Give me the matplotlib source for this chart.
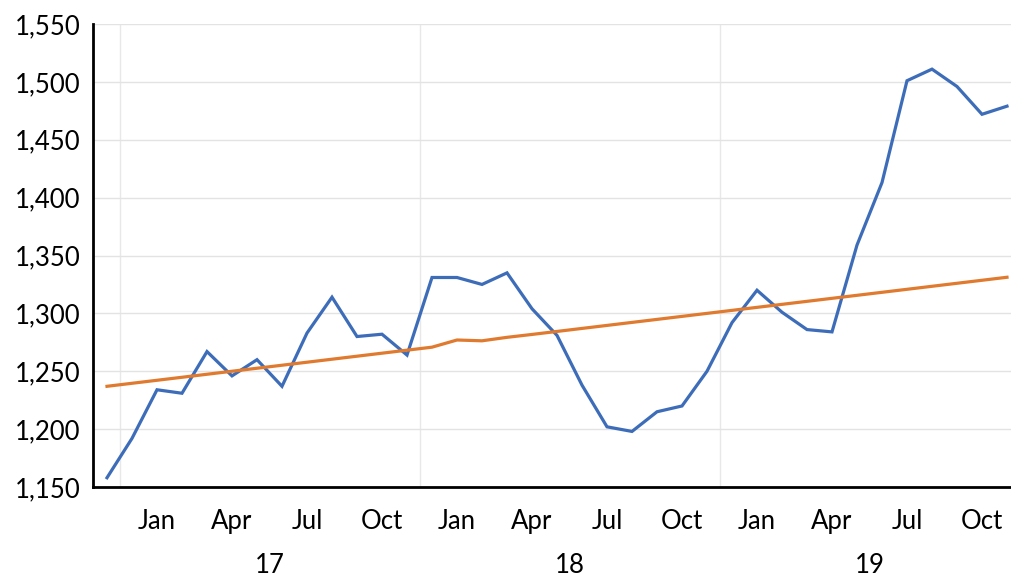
import matplotlib
matplotlib.use("Agg")
import matplotlib.pyplot as plt
from matplotlib.ticker import FuncFormatter
from matplotlib.transforms import blended_transform_factory

plt.rcParams['font.family'] = ['Lato', 'DejaVu Sans']

# Monthly series Dec 2016 .. Dec 2019 (37 points)
values = [1158, 1192, 1234, 1231, 1267, 1246, 1260, 1237, 1283, 1314,
          1280, 1282, 1264, 1331, 1331, 1325, 1335, 1304, 1281, 1238,
          1202, 1198, 1215, 1220, 1250, 1292, 1320, 1301, 1286, 1284,
          1359, 1413, 1501, 1511, 1496, 1472, 1479]
trend = [1237.0, 1239.6, 1242.2, 1244.8, 1247.4, 1250.0, 1252.6, 1255.2, 1257.8, 1260.4,
         1263.0, 1265.6, 1268.2, 1270.8, 1277.0, 1276.3, 1279.3, 1281.8, 1284.4, 1287.0,
         1289.6, 1292.2, 1294.8, 1297.4, 1300.0, 1302.6, 1305.2, 1307.8, 1310.4, 1313.0,
         1315.6, 1318.2, 1320.8, 1323.4, 1326.0, 1328.6, 1331.2]
month_labels = ["Jan", "Apr", "Jul", "Oct"]
year_labels = ["17", "18", "19"]
y_ticks = [1150, 1200, 1250, 1300, 1350, 1400, 1450, 1500, 1550]

W, H = 1011, 579
fig = plt.figure(figsize=(W / 100, H / 100), dpi=100)
left_px, right_px, top_px, bottom_px = 93, 1011, 24, 487
ax = fig.add_axes([left_px / W, 1 - bottom_px / H, (right_px - left_px) / W, (bottom_px - top_px) / H])

x = list(range(len(values)))
ax.plot(x, values, color="#3D6DB8", lw=2.3, solid_joinstyle="miter", zorder=3)
ax.plot(x, trend, color="#E07A2F", lw=2.3, zorder=3)

ax.set_ylim(1150, 1550)
ax.set_xlim(-0.56, 36.16)
ax.set_yticks(y_ticks)
ax.yaxis.set_major_formatter(FuncFormatter(lambda v, p: f"{int(v):,}"))
ax.tick_params(axis="y", length=0, pad=9, labelsize=18.5)
ax.tick_params(axis="x", length=0)
ax.set_xticks([])

ax.grid(axis="y", color="#E3E3E3", lw=1.0, zorder=0)
for yb in [0.5, 12.5, 24.5]:
    ax.axvline(yb, color="#E8E8E8", lw=1.0, zorder=0)

for s in ["top", "right"]:
    ax.spines[s].set_visible(False)
for s in ["left", "bottom"]:
    ax.spines[s].set_linewidth(2)
    ax.spines[s].set_color("black")

tr = blended_transform_factory(ax.transData, fig.transFigure)
for yi, yl in enumerate(year_labels):
    base = 1 + yi * 12
    for mi, ml in enumerate(month_labels):
        ax.text(base + mi * 3 + 1, 1 - 529 / H, ml, transform=tr, ha="center",
                va="baseline", fontsize=18.5, clip_on=False)
    ax.text(base + 5.5, 1 - 573 / H, yl, transform=tr, ha="center",
            va="baseline", fontsize=18.5, clip_on=False)

fig.savefig("out.png", dpi=100)
